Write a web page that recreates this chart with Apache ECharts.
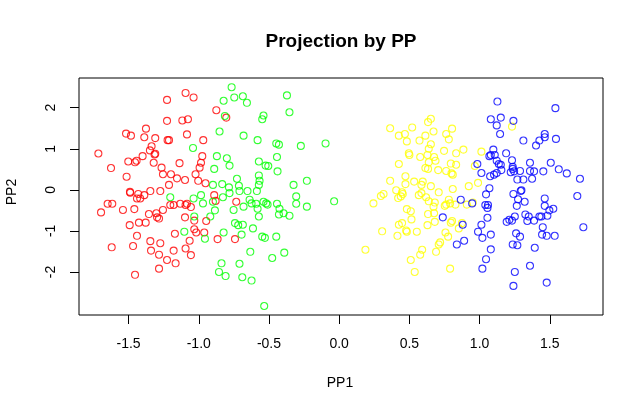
<!doctype html>
<html lang="en">
<head>
    <meta charset="UTF-8">
    <title>Projection by PP</title>
    <style>
        html, body { margin: 0; padding: 0; background: #fff; }
        #main { width: 643px; height: 413px; }
    </style>
    <script src="https://cdn.jsdelivr.net/npm/echarts@6/dist/echarts.min.js"></script>
</head>
<body>
    <div id="main"></div>
    <script>
        // [PP1, PP2] per group
        var red = [
            [-1.715,0.885],[-1.625,0.53],[-1.514,0.32],[-1.518,1.37],[-1.483,1.32],[-1.388,1.28],[-1.376,1.49],
            [-1.31,1.26],[-1.226,2.19],[-1.226,1.68],[-1.094,2.36],[-1.037,2.25],[-1.117,1.69],[-1.077,1.72],
            [-1.084,1.35],[-1.222,1.21],[-1.212,1.21],[-0.968,1.21],[-0.875,1.94],[-1.336,1.06],[-1.348,0.96],
            [-1.31,0.88],[-1.315,0.86],[-1.40,0.82],[-1.443,0.71],[-1.454,0.67],[-1.502,0.69],[-1.321,0.66],
            [-1.265,0.54],[-1.255,0.38],[-1.198,0.38],[-1.137,0.65],[-0.975,0.82],[-0.984,0.66],[-0.994,0.54],
            [-1.023,0.38],[-1.155,0.28],[-1.098,0.24],[-1.212,0.12],[-1.004,0.22],[-0.952,0.16],[-0.804,1.76],
            [-1.488,-0.07],[-1.49,-0.05],[-1.431,-0.10],[-1.388,-0.13],[-1.44,-0.21],[-1.417,-0.21],[-1.345,-0.03],
            [-1.274,-0.03],[-1.649,-0.34],[-1.616,-0.34],[-1.696,-0.55],[-1.54,-0.49],[-1.459,-0.47],[-1.355,-0.59],
            [-1.302,-0.57],[-1.255,-0.49],[-1.203,-0.37],[-1.179,-0.37],[-1.132,-0.34],[-1.084,-0.34],[-1.094,-0.37],
            [-1.056,-0.42],[-1.297,-0.67],[-1.283,-0.70],[-1.426,-0.80],[-1.378,-0.80],[-1.492,-0.86],[-1.098,-0.67],
            [-1.032,-0.75],[-0.947,-0.76],[-0.89,-0.13],[-1.17,-1.07],[-1.032,-0.96],[-1.018,-1.04],[-0.961,-1.04],
            [-0.866,-1.20],[-1.44,-1.12],[-1.065,-1.24],[-1.62,-1.40],[-1.468,-1.37],[-1.345,-1.25],[-1.274,-1.30],
            [-1.34,-1.48],[-1.283,-1.58],[-1.179,-1.48],[-1.094,-1.43],[-1.056,-1.59],[-1.226,-1.71],[-1.165,-1.79],
            [-1.283,-1.92],[-1.454,-2.07],[-0.733,-0.29],[-0.742,-1.20],[-0.88,-0.27]
        ];
        var green = [
            [-1.041,1.02],[-1.203,-0.18],[-1.037,-0.21],[-0.984,-0.13],[-0.97,-0.33],[-1.032,-0.65],[-1.103,-1.02],
            [-0.956,-1.19],[-0.899,-0.29],[-0.918,-0.65],
            [-0.766,2.50],[-0.823,2.17],[-0.747,2.25],[-0.686,2.28],[-0.657,2.12],[-0.372,2.30],[-0.814,1.80],
            [-0.539,1.81],[-0.548,1.72],[-0.354,1.89],[-0.852,1.42],[-0.681,1.32],[-0.581,1.21],[-0.448,1.13],
            [-0.429,1.10],[-0.273,1.07],[-0.097,1.13],[-0.871,0.82],[-0.80,0.77],[-0.781,0.59],[-0.89,0.51],
            [-0.572,0.69],[-0.443,0.80],[-0.524,0.59],[-0.505,0.58],[-0.439,0.45],[-0.572,0.35],[-0.728,0.27],
            [-0.567,0.22],[-0.572,0.12],[-0.899,0.12],[-0.833,0.14],[-0.785,0.06],[-0.714,0.10],[-0.325,0.12],
            [-0.23,0.22],
            [-0.828,-0.18],[-0.781,-0.08],[-0.71,-0.03],[-0.653,-0.03],[-0.638,-0.24],[-0.586,-0.03],[-0.624,-0.33],
            [-0.591,-0.34],[-0.539,-0.29],[-0.52,-0.33],[-0.51,-0.36],[-0.443,-0.34],[-0.425,-0.46],[-0.306,-0.16],
            [-0.306,-0.34],[-0.23,-0.41],[-0.036,-0.28],[-0.885,-0.50],[-0.752,-0.49],[-0.681,-0.41],[-0.581,-0.46],
            [-0.572,-0.65],[-0.429,-0.60],[-0.396,-0.57],[-0.354,-0.63],[-0.742,-0.81],[-0.719,-0.86],[-0.686,-0.85],
            [-0.614,-0.94],[-0.823,-1.04],[-0.695,-1.09],[-0.548,-1.14],[-0.529,-1.17],[-0.448,-1.14],[-0.633,-1.51],
            [-0.477,-1.66],[-0.391,-1.53],[-0.838,-1.79],[-0.71,-1.80],[-0.856,-2.00],[-0.809,-2.10],[-0.69,-2.13],
            [-0.624,-2.21],[-0.534,-2.83]
        ];
        var yellow = [
            [0.363,1.50],[0.425,1.32],[0.468,1.36],[0.482,1.18],[0.52,1.52],[0.572,1.20],[0.614,1.32],[0.633,1.65],
            [0.653,1.73],[0.672,1.42],[0.653,1.11],[0.638,1.00],[0.762,1.36],[0.781,1.23],[0.804,1.49],[0.747,0.95],
            [0.833,0.89],[0.885,0.98],[0.496,0.89],[0.50,0.85],[0.577,0.80],[0.629,0.85],[0.676,0.80],[0.686,0.71],
            [0.638,0.67],[0.425,0.63],[0.614,0.53],[0.633,0.51],[0.705,0.48],[0.762,0.46],[0.795,0.64],[0.833,0.61],
            [0.80,0.40],[0.809,0.37],[0.472,0.33],[0.363,0.22],[0.472,0.14],[0.534,0.20],[0.595,0.20],[0.586,0.12],
            [0.653,0.09],[0.809,0.02],[0.923,0.09],[1.231,1.54],[1.013,0.93],[0.966,0.58],[0.989,0.17],
            [0.297,-0.15],[0.316,-0.10],[0.244,-0.33],[0.42,-0.20],[0.439,-0.16],[0.453,-0.10],[0.567,-0.13],
            [0.586,-0.08],[0.619,-0.18],[0.638,-0.28],[0.709,-0.06],[0.681,-0.31],[0.672,-0.41],[0.762,-0.36],
            [0.781,-0.24],[0.79,-0.33],[0.752,-0.39],[0.828,-0.36],[0.909,-0.36],[0.482,-0.47],[0.51,-0.52],
            [0.515,-0.72],[0.633,-0.59],[0.676,-0.57],[0.681,-0.78],[0.629,-0.86],[0.425,-0.85],[0.448,-0.81],
            [0.477,-0.99],[0.482,-1.02],[0.415,-1.12],[0.553,-1.02],[0.306,-1.01],[0.804,-0.76],[0.795,-0.80],
            [0.875,-0.81],[0.852,-0.94],[0.757,-1.04],[0.776,-1.14],[0.719,-1.28],[0.709,-1.33],[0.69,-1.51],
            [0.187,-1.46],[0.591,-1.46],[0.577,-1.58],[0.51,-1.71],[0.538,-2.00],[0.79,-1.92],[0.406,-0.01],
            [0.448,-0.06],[0.952,-0.31]
        ];
        var blue = [
            [0.866,-0.24],[0.947,-0.33],[0.738,-0.67],[0.88,-0.85],[0.838,-1.33],[0.89,-1.24],
            [1.127,2.15],[1.54,1.99],[1.08,1.72],[1.151,1.76],[1.122,1.57],[1.241,1.68],[1.146,1.36],[1.312,1.20],
            [1.402,1.08],[1.426,1.20],[1.464,1.36],[1.464,1.28],[1.544,1.24],[1.098,0.98],[1.08,0.85],[1.108,0.85],
            [1.07,0.82],[1.189,0.89],[1.122,0.71],[1.137,0.63],[1.151,0.61],[0.984,0.63],[1.231,0.72],[1.236,0.56],
            [1.359,0.66],[1.507,0.66],[1.013,0.41],[1.075,0.33],[1.103,0.37],[1.122,0.41],[1.155,0.48],[1.222,0.43],
            [1.246,0.45],[1.236,0.51],[1.288,0.46],[1.359,0.46],[1.388,0.45],[1.454,0.45],[1.564,0.50],[1.621,0.40],
            [1.269,0.25],[1.312,0.25],[1.374,0.27],[1.715,0.27],[1.07,0.04],[1.298,-0.01],
            [1.046,-0.11],[1.241,-0.10],[1.293,-0.03],[1.274,-0.23],[1.321,-0.29],[1.265,-0.39],[1.464,-0.21],
            [1.696,-0.15],[1.041,-0.37],[1.06,-0.37],[1.056,-0.44],[1.464,-0.39],[1.497,-0.50],[1.525,-0.46],
            [1.056,-0.68],[1.251,-0.65],[1.193,-0.78],[1.212,-0.73],[1.231,-0.75],[1.326,-0.60],[1.35,-0.65],
            [1.34,-0.76],[1.388,-0.75],[1.426,-0.65],[1.44,-0.65],[1.483,-0.63],[1.013,-0.85],[0.989,-1.02],
            [1.02,-1.17],[1.08,-1.09],[1.45,-0.91],[1.739,-0.91],[1.26,-1.06],[1.288,-1.14],[1.445,-1.09],
            [1.478,-1.12],[1.535,-1.12],[1.236,-1.33],[1.269,-1.35],[1.08,-1.45],[1.393,-1.41],[1.046,-1.69],
            [1.02,-1.92],[1.359,-1.85],[1.251,-2.00],[1.241,-2.34],[1.478,-2.26]
        ];
        var xTicks = [-1.5, -1.0, -0.5, 0.0, 0.5, 1.0, 1.5];
        var yTicks = [-2, -1, 0, 1, 2];

        var font = '"Liberation Sans", Arial, Helvetica, sans-serif';

        function points(name, data, color) {
            return {
                name: name,
                type: 'scatter',
                data: data,
                symbol: 'circle',
                symbolSize: 7,
                silent: true,
                itemStyle: { color: 'rgba(0,0,0,0)', borderColor: color, borderWidth: 1.1 }
            };
        }

        var myChart = echarts.init(document.getElementById('main'));
        myChart.setOption({
            animation: false,
            grid: {
                left: 79, right: 40, top: 78, bottom: 98,
                show: true, borderColor: '#000', borderWidth: 1,
                backgroundColor: 'rgba(0,0,0,0)'
            },
            xAxis: {
                type: 'value',
                min: -1.853, max: 1.879,
                axisLine: { show: false, onZero: false },
                splitLine: { show: false },
                axisTick: { show: true, length: 9, customValues: xTicks, lineStyle: { color: '#000' } },
                axisLabel: {
                    customValues: xTicks, margin: 22, color: '#000',
                    fontFamily: font, fontSize: 14,
                    formatter: function (v) { return v.toFixed(1); }
                }
            },
            yAxis: {
                type: 'value',
                min: -3.049, max: 2.724,
                axisLine: { show: false, onZero: false },
                splitLine: { show: false },
                axisTick: { show: true, length: 9, customValues: yTicks, lineStyle: { color: '#000' } },
                axisLabel: {
                    customValues: yTicks, margin: 21, rotate: 90, color: '#000',
                    fontFamily: font, fontSize: 14,
                    formatter: function (v) { return String(v); }
                }
            },
            graphic: [
                { type: 'text', x: 341, y: 42,
                  style: { text: 'Projection by PP', font: 'bold 19px ' + font, fill: '#000',
                           textAlign: 'center', textVerticalAlign: 'middle' } },
                { type: 'text', x: 340, y: 383,
                  style: { text: 'PP1', font: '14px ' + font, fill: '#000',
                           textAlign: 'center', textVerticalAlign: 'middle' } },
                { type: 'text', x: 12, y: 192, rotation: Math.PI / 2,
                  style: { text: 'PP2', font: '14px ' + font, fill: '#000',
                           textAlign: 'center', textVerticalAlign: 'middle' } }
            ],
            series: [
                points('1', red, '#FF0000'),
                points('2', green, '#00FF00'),
                points('3', yellow, '#FFFF00'),
                points('4', blue, '#0000FF')
            ]
        });
    </script>
</body>
</html>
